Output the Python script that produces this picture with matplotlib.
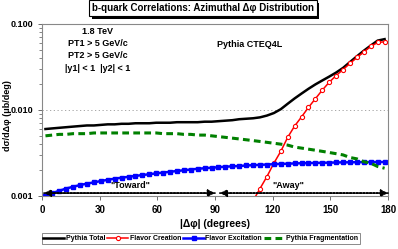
import numpy as np
import matplotlib.pyplot as plt
from matplotlib.patches import Rectangle

plt.rcParams['font.family'] = ['Liberation Sans', 'DejaVu Sans']

# bin centres (3.6 degree bins)
dphi = np.arange(50) * 3.6 + 1.8

pythia_total = [0.0060, 0.0061, 0.0062, 0.0063, 0.0064, 0.0065, 0.0066, 0.0066, 0.0067, 0.0068,
                0.0068, 0.0069, 0.0069, 0.0070, 0.0070, 0.0070, 0.0071, 0.0071, 0.0071, 0.0072,
                0.0072, 0.0072, 0.0072, 0.0073, 0.0073, 0.0074, 0.0075, 0.0076, 0.0078, 0.0079,
                0.0080, 0.0082, 0.0086, 0.0092, 0.0102, 0.0118, 0.0136, 0.0155, 0.0176, 0.0198,
                0.0220, 0.0244, 0.0272, 0.0308, 0.0360, 0.0420, 0.0488, 0.0560, 0.0640, 0.0665]

flavor_creation = [np.nan] * 29 + [0.00062, 0.00088, 0.00122, 0.00168, 0.0024, 0.0033,
                                   0.0048, 0.0065, 0.0083, 0.0107, 0.0135, 0.0170, 0.0210,
                                   0.0251, 0.0295, 0.0347, 0.0407, 0.0472, 0.0547, 0.0608, 0.0620]

flavor_excitation = [0.00100, 0.00108, 0.00115, 0.00122, 0.00128, 0.00134, 0.00139, 0.00144, 0.00149, 0.00154,
                     0.00159, 0.00163, 0.00167, 0.00171, 0.00175, 0.00179, 0.00183, 0.00187, 0.00191, 0.00195,
                     0.00199, 0.00203, 0.00207, 0.00210, 0.00213, 0.00216, 0.00219, 0.00221, 0.00223, 0.00226,
                     0.00228, 0.00230, 0.00232, 0.00234, 0.00236, 0.00237, 0.00239, 0.00240, 0.00241, 0.00242,
                     0.00243, 0.00244, 0.00245, 0.00246, 0.00246, 0.00247, 0.00247, 0.00248, 0.00248, 0.00248]

fragmentation = [0.0050, 0.0051, 0.0052, 0.0052, 0.0053, 0.0053, 0.0053, 0.0054, 0.0054, 0.0054,
                 0.0054, 0.0054, 0.0054, 0.0054, 0.0054, 0.0054, 0.0054, 0.0053, 0.0053, 0.0053,
                 0.0052, 0.0052, 0.0051, 0.0051, 0.0050, 0.0049, 0.0048, 0.0047, 0.0046, 0.0045,
                 0.0044, 0.0043, 0.0042, 0.0041, 0.0040, 0.0039, 0.0037, 0.0036, 0.0035, 0.0034,
                 0.0033, 0.0032, 0.0031, 0.0030, 0.0028, 0.0027, 0.0025, 0.0024, 0.0022, 0.0021]

xticks = [0, 30, 60, 90, 120, 150, 180]
yticks = [0.001, 0.01, 0.1]
ytick_labels = ['0.001', '0.010', '0.100']
title = 'b-quark Correlations: Azimuthal \u0394\u03c6 Distribution'

fig = plt.figure(figsize=(3.98, 2.49), dpi=100)
ax = fig.add_axes([0.1055, 0.213, 0.8695, 0.691])

ax.plot(dphi, pythia_total, color='black', lw=1.8, label='Pythia Total')
ax.plot(dphi, flavor_creation, color='red', lw=1.1, marker='o', ms=3, mfc='white',
        mec='red', mew=0.8, label='Flavor Creation')
ax.plot(dphi, flavor_excitation, color='blue', lw=1.8, marker='s', ms=3.2,
        label='Flavor Excitation')
ax.plot(dphi, fragmentation, color='#008000', lw=2.2, ls=(0, (2.2, 1.4)),
        label='Pythia Fragmentation')

ax.set_yscale('log')
ax.set_xlim(0, 180)
ax.set_ylim(0.001, 0.1)
ax.set_xticks(xticks)
ax.set_xticklabels([str(t) for t in xticks], fontsize=7, fontweight='bold')
ax.set_yticks(yticks)
ax.set_yticklabels(ytick_labels, fontsize=6.5, fontweight='bold')
ax.tick_params(axis='both', which='major', length=3, width=0.6, color='#555555')
ax.tick_params(axis='y', which='minor', length=2, width=0.5, color='#555555')
ax.yaxis.set_minor_formatter(plt.NullFormatter())
ax.grid(axis='y', which='major', ls=(0, (1.5, 3)), color='#999999', lw=0.6)
for s in ax.spines.values():
    s.set_color('#888888')
    s.set_linewidth(0.8)

ax.set_xlabel('|\u0394\u03c6| (degrees)', fontsize=7.5, fontweight='bold', labelpad=3)
ax.set_ylabel('d\u03c3/d\u0394\u03c6 (\u03bcb/deg)', fontsize=6.5, fontweight='bold')
ax.yaxis.set_label_coords(-0.088, 0.47)

# toward / away arrows
arrow_y = 0.00108
for x0, x1 in [(1, 90), (92.5, 180)]:
    for a, b in [(x0, x1), (x1, x0)]:
        ax.annotate('', xy=(a, arrow_y), xytext=(b, arrow_y),
                    arrowprops=dict(arrowstyle='-|>', color='black', lw=1.2, ls=(0, (1, 1)),
                                    mutation_scale=10, shrinkA=0, shrinkB=0),
                    annotation_clip=False)
ax.text(46, 0.00133, '"Toward"', fontsize=6.5, fontweight='bold', ha='center', va='center')
ax.text(128, 0.00133, '"Away"', fontsize=6.5, fontweight='bold', ha='center', va='center')

ax.text(29, 0.05, '1.8 TeV\nPT1 > 5 GeV/c\nPT2 > 5 GeV/c\n|y1| < 1  |y2| < 1',
        fontsize=6.5, fontweight='bold', ha='center', va='center', linespacing=1.45)
ax.text(91, 0.0575, 'Pythia CTEQ4L', fontsize=6.5, fontweight='bold', ha='left', va='center')

# title box with drop shadow
t = fig.text(0.51, 0.967, title, fontsize=7, fontweight='bold', ha='center', va='center',
             zorder=5, bbox=dict(boxstyle='square,pad=0.3', fc='white', ec='black', lw=0.8))
fig.canvas.draw()
bb = t.get_bbox_patch().get_window_extent()
W, H = fig.bbox.width, fig.bbox.height
fig.add_artist(Rectangle(((bb.x0 + 2.5) / W, (bb.y0 - 2.5) / H), bb.width / W, bb.height / H,
                         transform=fig.transFigure, fc='black', ec='none', zorder=4))

leg = fig.legend(loc='center', bbox_to_anchor=(0.505, 0.042), ncol=4,
                 frameon=True, fancybox=False, edgecolor='#555555', handlelength=3.0,
                 handletextpad=0.2, columnspacing=0.3, borderpad=0.25,
                 prop={'weight': 'bold', 'size': 5})
leg.get_frame().set_linewidth(0.6)

fig.savefig('out.png', dpi=100)
